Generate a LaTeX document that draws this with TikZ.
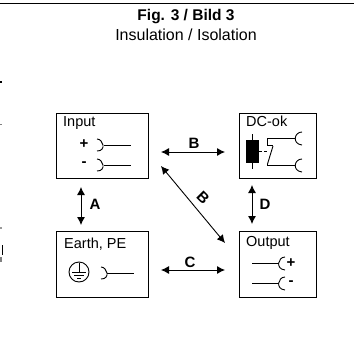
\documentclass[tikz,border=0pt]{standalone}
\usepackage{fontspec}
\setmainfont{Liberation Sans}
\usetikzlibrary{arrows.meta}
\tikzset{
  x=1pt,y=-1pt,
  boxn/.style={draw=black,line width=1.1pt,minimum width=#1,minimum height=65.5pt,inner sep=0pt,anchor=north west},
  lbl/.style={inner sep=0pt,font=\fontsize{14.5}{16}\selectfont,anchor=base west},
  tag/.style={inner sep=0pt,font=\fontsize{15}{17}\selectfont\bfseries},
  pin/.style={inner sep=0pt,font=\fontsize{15}{17}\selectfont\bfseries},
  wire/.style={line width=0.9pt},
  dbl/.style={line width=0.9pt,{Latex[length=8pt,width=8pt]}-{Latex[length=8pt,width=8pt]}}
}
\begin{document}
\begin{tikzpicture}
\useasboundingbox (0,0) rectangle (354,361);
\draw[line width=1pt] (0,3.5) -- (354,3.5);
\fill[black] (0,80.5) rectangle (2,82.5);
\fill[black!50] (0,124) rectangle (2,125);
\fill[black!40] (0,227) rectangle (2,229);
\fill[black] (1.5,245) rectangle (2.5,255);
\fill[black!50] (0,257) rectangle (2,262);
\node[inner sep=0pt,font=\fontsize{15.5}{17}\selectfont\bfseries] (ttl) at (186,17) {Fig. 3 / Bild 3};
\node[inner sep=0pt,font=\fontsize{16}{18}\selectfont] (sub) at (186,34.5) {Insulation / Isolation};
% boxes
\node[boxn=92pt] (in) at (55.5,112.5) {};
\node[boxn=77pt] (dc) at (238.5,112.5) {};
\node[boxn=92pt] (pe) at (55.5,231) {};
\node[boxn=77pt] (out) at (238.5,231) {};
\node[lbl] (inT) at (63,126) {Input};
\node[lbl] (dcT) at (246,126) {DC-ok};
\node[lbl] (peT) at (64,248) {Earth, PE};
\node[lbl] (outT) at (246,246) {Output};
% arrows
\draw[dbl] (161,152) -- (225,152);
\draw[dbl] (81,187) -- (81,225);
\draw[dbl] (252,185) -- (252,224);
\draw[dbl] (161,270) -- (225,270);
\draw[dbl] (161,166) -- (225,243);
\node[tag] (tB) at (194,143) {B};
\node[tag] (tA) at (95,204) {A};
\node[tag] (tD) at (265,204) {D};
\node[tag] (tC) at (190,262) {C};
\node[tag,rotate=-45] (tB2) at (203,198) {B};
% input pins
\node[pin] (p1) at (84,144.5) {+};
\node[pin] (p2) at (84,164) {-};
\draw[wire] (97,139) .. controls (103,139) and (107,151) .. (97,151);
\draw[wire] (104,145) -- (131,145);
\draw[wire] (97,159) .. controls (103,159) and (107,171) .. (97,171);
\draw[wire] (104,165) -- (131,165);
% earth
\draw[wire] (79,272) circle (10);
\draw[wire] (79,263) -- (79,272) (72,272) -- (86,272) (74,275) -- (84,275) (77,278) -- (81,278);
\draw[wire] (101,267) .. controls (107,267) and (111,279) .. (101,279);
\draw[wire] (107,273) -- (134,273);
% output
\draw[wire] (252,263) -- (279,263);
\draw[wire] (285,257) .. controls (278,257) and (275,269) .. (285,270);
\draw[wire] (252,283) -- (279,283);
\draw[wire] (285,277) .. controls (278,277) and (275,289) .. (285,290);
\node[pin] (p3) at (291,263) {+};
\node[pin] (p4) at (291,283) {-};
% dc-ok
\fill[black] (246,140) rectangle (258.5,163);
\draw[wire] (252.5,134) -- (252.5,169);
\draw[wire,densely dashed] (259,151) -- (268,151);
\draw[wire] (295,138) -- (267,138) -- (267,145.5) -- (273,145.5);
\draw[wire] (273,146) -- (267.5,164) -- (267.5,165.5) -- (295,165.5);
\draw[wire] (302,132) .. controls (294,132) and (292,144) .. (302,145);
\draw[wire] (302,159) .. controls (294,159) and (292,171) .. (302,172);
\end{tikzpicture}
\end{document}
